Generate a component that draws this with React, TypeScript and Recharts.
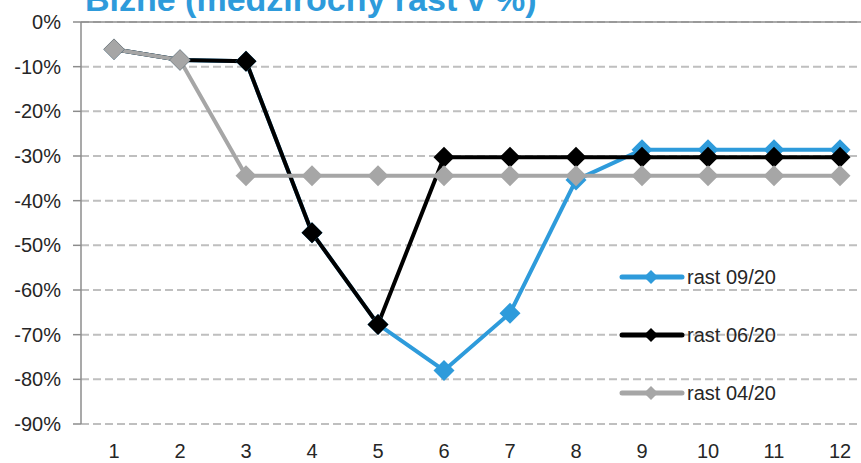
import { LineChart, Line, XAxis, YAxis, CartesianGrid, Legend } from "recharts";

const months = [1, 2, 3, 4, 5, 6, 7, 8, 9, 10, 11, 12];
const rast0920 = [-6.1, -8.5, -8.8, -47.2, -67.7, -78.0, -65.2, -35.4, -28.6, -28.6, -28.6, -28.6];
const rast0620 = [-6.1, -8.5, -8.8, -47.2, -67.7, -30.3, -30.3, -30.3, -30.3, -30.3, -30.3, -30.3];
const rast0420 = [-6.1, -8.5, -34.4, -34.4, -34.4, -34.4, -34.4, -34.4, -34.4, -34.4, -34.4, -34.4];
const yTicks = [0, -10, -20, -30, -40, -50, -60, -70, -80, -90];
const boundaryTicks = [0.5, 1.5, 2.5, 3.5, 4.5, 5.5, 6.5, 7.5, 8.5, 9.5, 10.5, 11.5, 12.5];

const series = [
  { key: "r0920", name: "rast 09/20", color: "#2E9BDB" },
  { key: "r0620", name: "rast 06/20", color: "#000000" },
  { key: "r0420", name: "rast 04/20", color: "#A6A6A6" },
];

const data = months.map((m, i) => ({
  m,
  r0920: rast0920[i],
  r0620: rast0620[i],
  r0420: rast0420[i],
}));

const FONT = "'Liberation Sans', Arial, sans-serif";

function diamond(color: string, r: number) {
  return (props: any) => {
    const { cx, cy, index } = props;
    if (cx == null || cy == null) return <g key={index} />;
    return (
      <polygon
        key={index}
        points={`${cx},${cy - r} ${cx + r},${cy} ${cx},${cy + r} ${cx - r},${cy}`}
        fill={color}
      />
    );
  };
}

function LegendBox() {
  return (
    <div style={{ fontFamily: FONT, fontSize: 20, color: "#262626" }}>
      {series.map((s) => (
        <div key={s.key} style={{ height: 58, display: "flex", alignItems: "center" }}>
          <svg width={68} height={20} style={{ display: "block" }}>
            <line x1={3} y1={10} x2={63} y2={10} stroke={s.color} strokeWidth={5} strokeLinecap="round" />
            <polygon points="32,3 39,10 32,17 25,10" fill={s.color} />
          </svg>
          <span>{s.name}</span>
        </div>
      ))}
    </div>
  );
}

export default function App() {
  return (
    <div
      style={{
        position: "absolute",
        left: 0,
        top: 0,
        width: 861,
        height: 463,
        overflow: "hidden",
        background: "#fff",
      }}
    >
      {/* title is cropped at the top edge in the source image */}
      <div
        style={{
          position: "absolute",
          left: 85,
          top: -18,
          fontFamily: FONT,
          fontWeight: "bold",
          fontSize: 34,
          lineHeight: "34px",
          color: "#2E9BDB",
          whiteSpace: "nowrap",
          zIndex: 2,
        }}
      >
        Bizne (medziročný rast v %)
      </div>
      <LineChart
        width={873}
        height={463}
        data={data}
        margin={{ top: 22, right: 0, bottom: 0, left: 0 }}
      >
        <CartesianGrid
          vertical={false}
          stroke="#BFBFBF"
          strokeWidth={2}
          strokeDasharray="8 4"
          xAxisId="b"
        />
        <XAxis
          xAxisId="b"
          dataKey="m"
          type="number"
          domain={[0.5, 12.5]}
          ticks={months}
          axisLine={false}
          tickLine={false}
          tickSize={0}
          tickMargin={20}
          height={39}
          tick={{ fill: "#262626", fontSize: 20, fontFamily: FONT }}
        />
        <XAxis
          xAxisId="t"
          dataKey="m"
          type="number"
          orientation="top"
          mirror
          domain={[0.5, 12.5]}
          ticks={boundaryTicks}
          tick={false}
          tickSize={8}
          height={1}
          axisLine={{ stroke: "#8C8C8C", strokeWidth: 1.5 }}
          tickLine={{ stroke: "#8C8C8C", strokeWidth: 1.5 }}
        />
        <YAxis
          domain={[-90, 0]}
          ticks={yTicks}
          width={81}
          tickSize={8}
          tickMargin={12}
          tickFormatter={(v: number) => `${v}%`}
          axisLine={{ stroke: "#8C8C8C", strokeWidth: 1.5 }}
          tickLine={{ stroke: "#8C8C8C", strokeWidth: 1.5 }}
          tick={{ fill: "#262626", fontSize: 20, fontFamily: FONT }}
        />
        <Legend
          layout="vertical"
          align="center"
          verticalAlign="middle"
          content={() => <LegendBox />}
          wrapperStyle={{ left: 619, top: 248, width: 200, height: 174 }}
        />
        {series.map((s) => (
          <Line
            key={s.key}
            xAxisId="b"
            dataKey={s.key}
            name={s.name}
            stroke={s.color}
            strokeWidth={4}
            dot={diamond(s.color, 10.5)}
            activeDot={false}
            isAnimationActive={false}
          />
        ))}
      </LineChart>
    </div>
  );
}
